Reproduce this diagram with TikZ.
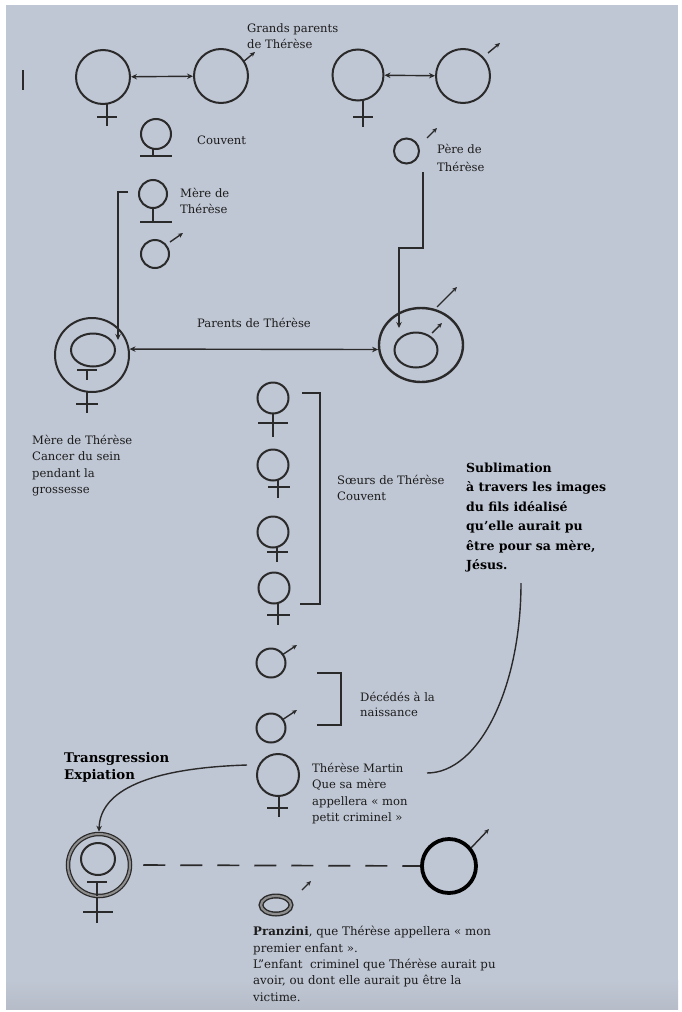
\documentclass[tikz,border=0pt]{standalone}
\usepackage{fontspec}
\setmainfont{DejaVu Serif}
\usetikzlibrary{arrows.meta,shapes.geometric}
\definecolor{bg}{HTML}{C0C7D4}
\definecolor{bgdark}{HTML}{B6BDC9}
\definecolor{ink}{HTML}{2A2A2A}
\definecolor{ringgray}{HTML}{8E8E8E}
\definecolor{txt}{HTML}{1C1C1C}
\begin{document}
\begin{tikzpicture}[x=1pt,y=-1pt,
  sym/.style={circle,draw=ink,line width=2pt,inner sep=0pt},
  ell/.style={ellipse,draw=ink,line width=2pt,inner sep=0pt},
  stroke/.style={draw=ink,line width=1.7pt},
  conn/.style={draw=ink,line width=1.4pt},
  tip/.style={-{Stealth[length=6pt,width=5.5pt]}},
  dtip/.style={{Stealth[length=6pt,width=5.5pt]}-{Stealth[length=6pt,width=5.5pt]}},
  marrow/.style={draw=ink,line width=1.4pt,-{Stealth[length=5pt,width=4.5pt]}},
  lbl/.style={anchor=base west,inner sep=0pt,align=left,text=txt,font=\fontsize{11.6}{16.5}\selectfont},
  blbl/.style={anchor=base west,inner sep=0pt,align=left,text=black,font=\fontsize{12.5}{19.5}\selectfont\bfseries}
]
% background
\fill[white] (0,0) rectangle (681,1012);
\fill[bg] (6,5) rectangle (678,980);
\shade[top color=bg,bottom color=bgdark] (6,980) rectangle (678,1009);
\useasboundingbox (0,0) rectangle (681,1012);

\draw[ink,line width=1.2pt] (23,70) -- (23,90);

% grandparents
\node[sym,minimum size=54] (gm1) at (103,77) {};
\draw[stroke] (107,104) -- (107,126) (97,117) -- (117,117);
\node[sym,minimum size=54] (gf1) at (221,76) {};
\draw[marrow] ([shift={(22,-14)}]gf1.center) -- ++(12,-10);
\draw[conn,dtip] (gm1) -- (gf1);
\node[lbl] (tgp) at (247,48.5) {Grands parents\\de Thérèse};

\node[sym,minimum size=51] (gm2) at (358,75) {};
\draw[stroke] (363,101) -- (363,127) (353,117) -- (373,117);
\node[sym,minimum size=54] (gf2) at (463,76) {};
\draw[marrow] ([shift={(25,-23)}]gf2.center) -- ++(12,-10);
\draw[conn,dtip] (gm2) -- (gf2);

% mother's side column
\node[sym,minimum size=30] (couv) at (156,134) {};
\draw[stroke] (153,149) -- (153,156) (140,156) -- (172,156);
\node[lbl] (tcouv) at (197,144) {Couvent};

\node[sym,minimum size=28] (mere) at (153,194) {};
\draw[stroke] (153,208) -- (153,222) (140,222) -- (172,222);
\node[lbl] (tmere) at (180,213.5) {Mère de\\Thérèse};

\node[sym,minimum size=28] (oncle) at (155,254) {};
\draw[marrow] ([shift={(15,-12)}]oncle.center) -- ++(13,-9);

% father
\node[sym,minimum size=25] (pere) at (406.5,151) {};
\draw[marrow] ([shift={(20.5,-13)}]pere.center) -- ++(10,-10);
\node[lbl,font=\fontsize{11.6}{18}\selectfont] (tpere) at (437,171) {Père de\\Thérèse};

% parents
\node[sym,minimum size=74] (mom) at (92,355) {};
\node[ell,minimum width=44,minimum height=33] (momin) at (93,350) {};
\draw[stroke] (77,370) -- (97,370) (87,370) -- (87,380);
\draw[stroke] (87,392) -- (87,413) (76,404) -- (98,404);

\node[ell,line width=2.4pt,minimum width=84,minimum height=74] (dad) at (421,345) {};
\node[ell,minimum width=43,minimum height=35] (dadin) at (416,350) {};
\draw[marrow] (437,307) -- (457,287);
\draw[marrow] (432,333) -- (442,323);

\draw[conn,dtip] (mom.9) -- (dad.186);
\node[lbl] (tpar) at (197,327) {Parents de Thérèse};

\coordinate (mstart) at (128,192);
\coordinate (mbend) at (118,192);
\coordinate (mend) at (118,340);
\draw[conn,tip] (mstart) -- (mbend) -- (mend);

\coordinate (pstart) at (423,172);
\coordinate (pbend) at (399,248);
\coordinate (pend) at (399,328);
\draw[conn,tip] (pstart) |- (pbend) -- (pend);

\node[lbl] (tmom) at (32,493.5) {Mère de Thérèse\\Cancer du sein\\pendant la\\grossesse};

% sisters
\node[sym,minimum size=31] (s1) at (273,398) {};
\draw[stroke] (273,413) -- (273,437) (258,423) -- (288,423);
\node[sym,minimum size=31] (s2) at (273,465) {};
\draw[stroke] (278,480) -- (278,498) (268,487) -- (290,487);
\node[sym,minimum size=31] (s3) at (273,532) {};
\draw[stroke] (277,547) -- (277,562) (267,552) -- (288,552);
\node[sym,minimum size=31] (s4) at (274,588) {};
\draw[stroke] (278,603) -- (278,625) (267,615) -- (290,615);
\draw[conn] (302,393) -| (320,604) -- (300,604);
\node[lbl] (tsoe) at (337,500.5) {Sœurs de Thérèse\\Couvent};

% deceased brothers
\node[sym,minimum size=29] (b1) at (271,663) {};
\draw[marrow] ([shift={(11,-8)}]b1.center) -- ++(15,-10);
\node[sym,minimum size=29] (b2) at (271,728) {};
\draw[marrow] ([shift={(11,-8)}]b2.center) -- ++(15,-10);
\draw[conn] (317,673) -| (341,725) -- (317,725);
\node[lbl,font=\fontsize{11.6}{15}\selectfont] (tdec) at (360,716) {Décédés à la\\naissance};

% Therese
\node[sym,minimum size=42] (ther) at (278,775) {};
\draw[stroke] (279,796) -- (279,817) (267,808) -- (288,808);
\node[lbl] (tther) at (312,821.5) {Thérèse Martin\\Que sa mère\\appellera « mon\\petit criminel »};

% sublimation
\node[blbl] (tsub) at (466,569.5) {Sublimation\\à travers les images\\du fils idéalisé\\qu'elle aurait pu\\être pour sa mère,\\Jésus.};
\coordinate (subend) at (521,583);
\coordinate (thereast) at (427,773);
\draw[conn] (subend) .. controls (521,688) and (479,773) .. (thereast);

% transgression
\node[blbl,font=\fontsize{13.3}{17}\selectfont\bfseries] (ttra) at (64,779) {Transgression\\Expiation};

% bottom female (double)
\node[circle,draw=ink,line width=4.5pt,inner sep=0pt,minimum size=62] (bf) at (99,865) {};
\draw[ringgray,line width=2pt] (bf.center) circle[radius=31];
\node[ell,minimum width=34,minimum height=32] (bfin) at (98,859) {};
\draw[stroke] (87,882) -- (107,882) (97,882) -- (97,896);
\draw[stroke] (97,898) -- (97,923) (83,912) -- (113,912);

\coordinate (tstart) at (247,765);
\draw[conn,tip] (tstart) .. controls (150,768) and (100,790) .. (bf.north);

% Pranzini
\node[circle,draw=black,line width=3.8pt,inner sep=0pt,minimum size=54] (pr) at (449,866) {};
\draw[marrow] ([shift={(22,-18)}]pr.center) -- ++(18,-19);
\draw[conn,line width=1.7pt,dash pattern=on 22pt off 15pt,shorten <=11pt] (bf.east) -- (pr.west);

\node[ellipse,draw=ink,line width=5pt,inner sep=0pt,minimum width=30,minimum height=18] (pr2) at (276,905) {};
\draw[ringgray,line width=2.2pt] (pr2.center) ellipse[x radius=15,y radius=9];
\draw[marrow,line width=1.2pt] (302,890) -- (311,881);

\node[lbl,font=\fontsize{11.8}{16.3}\selectfont] (tpr) at (253,1001) {\textbf{Pranzini}, que Thérèse appellera « mon\\premier enfant ».\\L"enfant\ \ criminel que Thérèse aurait pu\\avoir, ou dont elle aurait pu être la\\victime.};
\end{tikzpicture}
\end{document}
